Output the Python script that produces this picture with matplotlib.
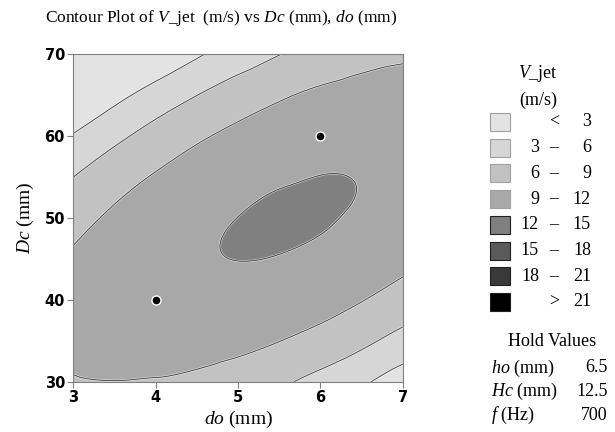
import numpy as np
import matplotlib
matplotlib.use("Agg")
import matplotlib.pyplot as plt
import matplotlib.tri as mtri
from matplotlib.patches import Rectangle

# ---- data ----
do_vals = [3.0, 3.5, 4.0, 4.5, 5.0, 5.5, 6.0, 6.5, 7.0]          # x, do (mm)
dc_vals = [30, 35, 40, 45, 50, 55, 60, 65, 70]                    # y, Dc (mm)
# V_jet (m/s) at grid points; rows = Dc, columns = do
v_jet = [
    [8.84, 8.97, 8.85, 8.45, 7.70, 6.48, 5.12, 3.45, 1.47],
    [9.61, 10.12, 10.31, 10.20, 9.78, 9.05, 8.01, 6.66, 5.00],
    [9.84, 10.66, 11.18, 11.38, 11.28, 10.86, 10.14, 9.11, 7.77],
    [9.31, 10.45, 11.28, 11.81, 12.02, 11.93, 11.52, 10.81, 9.78],
    [8.03, 9.49, 10.64, 11.48, 12.01, 12.23, 12.15, 11.75, 11.04],
    [5.99, 7.77, 9.24, 10.40, 11.25, 11.79, 12.02, 11.94, 11.55],
    [3.19, 5.29, 7.08, 8.56, 9.72, 10.58, 11.13, 11.37, 11.30],
    [-0.35, 2.06, 4.17, 5.96, 7.45, 8.63, 9.50, 10.05, 10.30],
    [-4.65, -1.92, 0.50, 2.62, 4.42, 5.92, 7.10, 7.98, 8.55],
]
design_do = [4, 6]
design_dc = [40, 60]
levels = [3, 6, 9, 12, 15, 18, 21]
legend_labels = [("", "<", "3"), ("3", "\u2013", "6"), ("6", "\u2013", "9"),
                 ("9", "\u2013", "12"), ("12", "\u2013", "15"), ("15", "\u2013", "18"),
                 ("18", "\u2013", "21"), ("", ">", "21")]
hold_names = [r"$\it{ho}$ (mm)", r"$\it{Hc}$ (mm)", r"$\it{f}$ (Hz)"]
hold_values = ["6.5", "12.5", "700"]
colors = ["#e3e3e3", "#d6d6d6", "#c2c2c2", "#a8a8a8", "#808080",
          "#5a5a5a", "#393939", "#000000"]

plt.rcParams["mathtext.fontset"] = "custom"
plt.rcParams["mathtext.rm"] = "Liberation Serif"
plt.rcParams["mathtext.it"] = "Liberation Serif:italic"
serif = "Liberation Serif"

W, H = 615, 432
fig = plt.figure(figsize=(W / 100, H / 100), dpi=100)
ax = fig.add_axes([73.3 / W, 1 - 381.7 / H, (402.7 - 73.3) / W, (381.7 - 54) / H])

X, Y = np.meshgrid(do_vals, dc_vals)
Z = np.array(v_jet)
tri = mtri.Triangulation(X.ravel(), Y.ravel())
refiner = mtri.UniformTriRefiner(tri)
interp = mtri.CubicTriInterpolator(tri, Z.ravel(), kind="geom")
tri_f, z_f = refiner.refine_field(Z.ravel(), triinterpolator=interp, subdiv=4)

bounds = [-100] + levels + [100]
ax.tricontourf(tri_f, z_f, levels=bounds, colors=colors)
ax.tricontour(tri_f, z_f, levels=levels, colors="white", linewidths=1.6, alpha=0.6)
ax.tricontour(tri_f, z_f, levels=levels, colors="#3a3a3a", linewidths=0.6)

ax.scatter(design_do, design_dc, s=42, c="black", edgecolors="white",
           linewidths=1.0, zorder=5)

ax.set_xlim(3, 7)
ax.set_ylim(30, 70)
ax.set_xticks([3, 4, 5, 6, 7])
ax.set_yticks([30, 40, 50, 60, 70])
for s in ax.spines.values():
    s.set_color("#808080")
    s.set_linewidth(0.8)
ax.tick_params(direction="out", length=4, width=0.8, color="#808080",
               labelsize=10.5, pad=2)
for lab in ax.get_xticklabels() + ax.get_yticklabels():
    lab.set_fontweight("bold")
    lab.set_family("DejaVu Sans")

ax.set_xlabel(r"$\it{do}$ (mm)", family=serif, fontsize=14, labelpad=3)
ax.set_ylabel(r"$\it{Dc}$ (mm)", family=serif, fontsize=14, labelpad=6)

fig.text(45 / W, 1 - 18 / H,
         r"Contour Plot of $\it{V}$_jet  (m/s) vs $\it{Dc}$ (mm), $\it{do}$ (mm)",
         family=serif, fontsize=12.5, ha="left", va="center")

# legend
def fx(px):
    return px / W

def fy(py):
    return 1 - py / H

fs = 13
fig.text(fx(538), fy(74), r"$\it{V}$_jet", family=serif, fontsize=fs,
         ha="center", va="center")
fig.text(fx(538), fy(100), "(m/s)", family=serif, fontsize=fs,
         ha="center", va="center")
for i, (c, (a, d, b)) in enumerate(zip(colors, legend_labels)):
    yc = 122 + i * 25.7
    r = Rectangle((fx(490), fy(yc + 9)), 20 / W, 18 / H, transform=fig.transFigure,
                  facecolor=c, edgecolor="#a0a0a0" if i < 4 else "#202020",
                  linewidth=0.8)
    fig.add_artist(r)
    if a:
        fig.text(fx(539), fy(yc), a, family=serif, fontsize=fs, ha="right", va="center")
    fig.text(fx(554), fy(yc), d, family=serif, fontsize=fs, ha="center", va="center")
    fig.text(fx(591), fy(yc), b, family=serif, fontsize=fs, ha="right", va="center")

fig.text(fx(552), fy(342), "Hold Values", family=serif, fontsize=fs,
         ha="center", va="center")
for i, (n, v) in enumerate(zip(hold_names, hold_values)):
    yc = 368 + i * 23.5
    fig.text(fx(491), fy(yc), n, family=serif, fontsize=fs, ha="left", va="center")
    fig.text(fx(608), fy(yc), v, family=serif, fontsize=fs, ha="right", va="center")

fig.savefig("out.png", dpi=100)
